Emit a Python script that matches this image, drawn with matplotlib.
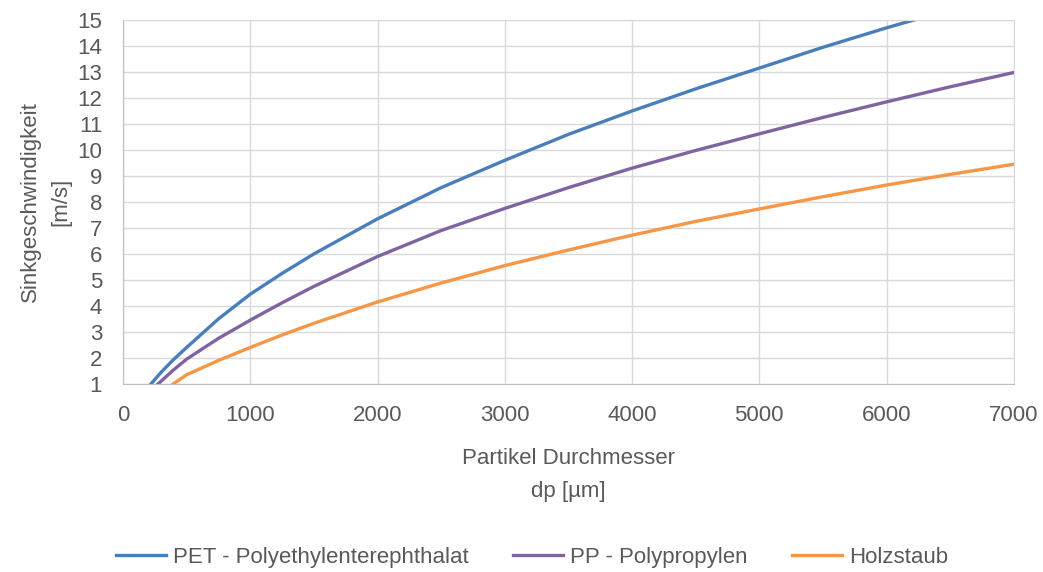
import matplotlib
matplotlib.use("Agg")
import matplotlib.pyplot as plt

# particle diameter in micrometre, sink velocity in m/s
x_pet = [220, 300, 400, 500, 750, 1000, 1250, 1500, 2000, 2500, 3000, 3500, 4000, 4500,
         5000, 5500, 6000, 6500, 7000]
pet = [1.0, 1.45, 1.95, 2.4, 3.5, 4.45, 5.25, 6.0, 7.35, 8.55, 9.6, 10.6, 11.5, 12.35,
       13.15, 13.95, 14.7, 15.4, 16.1]

x_pp = [276, 400, 500, 750, 1000, 1250, 1500, 2000, 2500, 3000, 3500, 4000, 4500,
        5000, 5500, 6000, 6500, 7000]
pp = [1.0, 1.55, 1.95, 2.75, 3.45, 4.12, 4.75, 5.9, 6.9, 7.75, 8.55, 9.3, 9.98,
      10.62, 11.25, 11.85, 12.43, 12.98]

x_holz = [395, 500, 750, 1000, 1250, 1500, 2000, 2500, 3000, 3500, 4000, 4500,
          5000, 5500, 6000, 6500, 7000]
holz = [1.0, 1.35, 1.9, 2.4, 2.88, 3.33, 4.15, 4.88, 5.55, 6.15, 6.72, 7.25,
        7.73, 8.2, 8.65, 9.06, 9.45]

labels = ["PET - Polyethylenterephthalat", "PP - Polypropylen", "Holzstaub"]
colors = ["#4A7EBB", "#8064A2", "#F79646"]

plt.rcParams["font.family"] = ["Liberation Sans", "DejaVu Sans"]
text_col = "#595959"
fs = 16

fig = plt.figure(figsize=(10.43, 5.72), dpi=100)
ax = fig.add_axes([0.118, 0.329, 0.854, 0.636])

ax.plot(x_pet, pet, color=colors[0], lw=2.4, label=labels[0])
ax.plot(x_pp, pp, color=colors[1], lw=2.4, label=labels[1])
ax.plot(x_holz, holz, color=colors[2], lw=2.4, label=labels[2])

ax.set_xlim(0, 7000)
ax.set_ylim(1, 15)
ax.set_xticks(range(0, 7001, 1000))
ax.set_yticks(range(1, 16))
ax.grid(True, color="#d9d9d9", lw=1)
ax.set_axisbelow(True)
for s in ax.spines.values():
    s.set_color("#d9d9d9")
ax.spines["left"].set_color("#bfbfbf")
ax.spines["bottom"].set_color("#bfbfbf")
ax.tick_params(length=0, labelsize=fs, colors=text_col)
ax.tick_params(axis="y", pad=15)
ax.tick_params(axis="x", pad=15)

ax.set_xlabel("Partikel Durchmesser\ndp [µm]", fontsize=fs, color=text_col, labelpad=16,
              linespacing=1.75)
ax.set_ylabel("Sinkgeschwindigkeit\n[m/s]", fontsize=fs, color=text_col, labelpad=4,
              linespacing=1.6)

leg = fig.legend(loc="center", bbox_to_anchor=(0.51, 0.026), ncol=3, frameon=False,
                 fontsize=fs, handlelength=2.25, columnspacing=2.0, handletextpad=0.32)
for t in leg.get_texts():
    t.set_color(text_col)

fig.savefig("out.png", dpi=100)
